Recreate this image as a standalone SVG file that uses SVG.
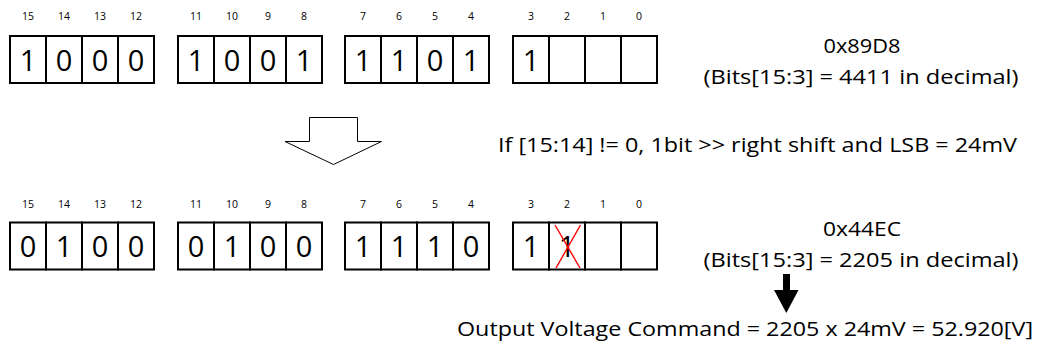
<svg xmlns="http://www.w3.org/2000/svg" width="1039" height="347" viewBox="0 0 1039 347">
  <style>
    .cell { fill: #ffffff; stroke: #000000; stroke-width: 2; }
    .bitno { font-family: "Open Sans", "Liberation Sans", sans-serif; font-size: 10.5px; fill: #000000; text-anchor: middle; }
    .val { font-family: "Open Sans", "Liberation Sans", sans-serif; font-size: 29px; fill: #000000; text-anchor: middle; }
    .note { font-family: "Open Sans", "Liberation Sans", sans-serif; font-size: 20px; fill: #000000; }
    .mid { text-anchor: middle; }
    .cross { stroke: #ff0000; stroke-width: 1.4; }
  </style>
  <rect x="0" y="0" width="1039" height="347" fill="#ffffff"/>

  <!-- Original register value: bits 15..0 -->
  <g id="reg-before">
    <g id="reg-before-15-12">
      <rect class="cell" x="10" y="36" width="36" height="47"/>
      <rect class="cell" x="46" y="36" width="36" height="47"/>
      <rect class="cell" x="82" y="36" width="36" height="47"/>
      <rect class="cell" x="118" y="36" width="36" height="47"/>
      <text class="bitno" x="28" y="20">15</text>
      <text class="bitno" x="64" y="20">14</text>
      <text class="bitno" x="100" y="20">13</text>
      <text class="bitno" x="136" y="20">12</text>
      <text class="val" x="28" y="70.5">1</text>
      <text class="val" x="64" y="70.5">0</text>
      <text class="val" x="100" y="70.5">0</text>
      <text class="val" x="136" y="70.5">0</text>
    </g>
    <g id="reg-before-11-8">
      <rect class="cell" x="178" y="36" width="36" height="47"/>
      <rect class="cell" x="214" y="36" width="36" height="47"/>
      <rect class="cell" x="250" y="36" width="36" height="47"/>
      <rect class="cell" x="286" y="36" width="36" height="47"/>
      <text class="bitno" x="196" y="20">11</text>
      <text class="bitno" x="232" y="20">10</text>
      <text class="bitno" x="268" y="20">9</text>
      <text class="bitno" x="304" y="20">8</text>
      <text class="val" x="196" y="70.5">1</text>
      <text class="val" x="232" y="70.5">0</text>
      <text class="val" x="268" y="70.5">0</text>
      <text class="val" x="304" y="70.5">1</text>
    </g>
    <g id="reg-before-7-4">
      <rect class="cell" x="345" y="36" width="36" height="47"/>
      <rect class="cell" x="381" y="36" width="36" height="47"/>
      <rect class="cell" x="417" y="36" width="36" height="47"/>
      <rect class="cell" x="453" y="36" width="36" height="47"/>
      <text class="bitno" x="363" y="20">7</text>
      <text class="bitno" x="399" y="20">6</text>
      <text class="bitno" x="435" y="20">5</text>
      <text class="bitno" x="471" y="20">4</text>
      <text class="val" x="363" y="70.5">1</text>
      <text class="val" x="399" y="70.5">1</text>
      <text class="val" x="435" y="70.5">0</text>
      <text class="val" x="471" y="70.5">1</text>
    </g>
    <g id="reg-before-3-0">
      <rect class="cell" x="513" y="36" width="36" height="47"/>
      <rect class="cell" x="549" y="36" width="36" height="47"/>
      <rect class="cell" x="585" y="36" width="36" height="47"/>
      <rect class="cell" x="621" y="36" width="36" height="47"/>
      <text class="bitno" x="531" y="20">3</text>
      <text class="bitno" x="567" y="20">2</text>
      <text class="bitno" x="603" y="20">1</text>
      <text class="bitno" x="639" y="20">0</text>
      <text class="val" x="531" y="70.5">1</text>
    </g>
  </g>

  <g id="label-before">
    <text class="note mid" x="862" y="53" textLength="77" lengthAdjust="spacingAndGlyphs">0x89D8</text>
    <text class="note mid" x="861" y="84" textLength="315" lengthAdjust="spacingAndGlyphs">(Bits[15:3] = 4411 in decimal)</text>
  </g>

  <g id="label-shift">
    <text class="note" x="498" y="152" textLength="519" lengthAdjust="spacingAndGlyphs">If [15:14] != 0, 1bit &gt;&gt; right shift and LSB = 24mV</text>
  </g>

  <!-- Shifted register value -->
  <g id="reg-after">
    <g id="reg-after-15-12">
      <rect class="cell" x="10" y="222.5" width="36" height="47"/>
      <rect class="cell" x="46" y="222.5" width="36" height="47"/>
      <rect class="cell" x="82" y="222.5" width="36" height="47"/>
      <rect class="cell" x="118" y="222.5" width="36" height="47"/>
      <text class="bitno" x="28" y="207.5">15</text>
      <text class="bitno" x="64" y="207.5">14</text>
      <text class="bitno" x="100" y="207.5">13</text>
      <text class="bitno" x="136" y="207.5">12</text>
      <text class="val" x="28" y="257">0</text>
      <text class="val" x="64" y="257">1</text>
      <text class="val" x="100" y="257">0</text>
      <text class="val" x="136" y="257">0</text>
    </g>
    <g id="reg-after-11-8">
      <rect class="cell" x="178" y="222.5" width="36" height="47"/>
      <rect class="cell" x="214" y="222.5" width="36" height="47"/>
      <rect class="cell" x="250" y="222.5" width="36" height="47"/>
      <rect class="cell" x="286" y="222.5" width="36" height="47"/>
      <text class="bitno" x="196" y="207.5">11</text>
      <text class="bitno" x="232" y="207.5">10</text>
      <text class="bitno" x="268" y="207.5">9</text>
      <text class="bitno" x="304" y="207.5">8</text>
      <text class="val" x="196" y="257">0</text>
      <text class="val" x="232" y="257">1</text>
      <text class="val" x="268" y="257">0</text>
      <text class="val" x="304" y="257">0</text>
    </g>
    <g id="reg-after-7-4">
      <rect class="cell" x="345" y="222.5" width="36" height="47"/>
      <rect class="cell" x="381" y="222.5" width="36" height="47"/>
      <rect class="cell" x="417" y="222.5" width="36" height="47"/>
      <rect class="cell" x="453" y="222.5" width="36" height="47"/>
      <text class="bitno" x="363" y="207.5">7</text>
      <text class="bitno" x="399" y="207.5">6</text>
      <text class="bitno" x="435" y="207.5">5</text>
      <text class="bitno" x="471" y="207.5">4</text>
      <text class="val" x="363" y="257">1</text>
      <text class="val" x="399" y="257">1</text>
      <text class="val" x="435" y="257">1</text>
      <text class="val" x="471" y="257">0</text>
    </g>
    <g id="reg-after-3-0">
      <rect class="cell" x="513" y="222.5" width="36" height="47"/>
      <rect class="cell" x="549" y="222.5" width="36" height="47"/>
      <rect class="cell" x="585" y="222.5" width="36" height="47"/>
      <rect class="cell" x="621" y="222.5" width="36" height="47"/>
      <text class="bitno" x="531" y="207.5">3</text>
      <text class="bitno" x="567" y="207.5">2</text>
      <text class="bitno" x="603" y="207.5">1</text>
      <text class="bitno" x="639" y="207.5">0</text>
      <text class="val" x="531" y="257">1</text>
      <text class="val" x="567" y="257">1</text>
      <!-- bit 2 is discarded -->
      <line class="cross" x1="555" y1="225" x2="580" y2="268"/>
      <line class="cross" x1="580.5" y1="225" x2="556" y2="268"/>
    </g>
  </g>

  <g id="label-after">
    <text class="note mid" x="862" y="236" textLength="78" lengthAdjust="spacingAndGlyphs">0x44EC</text>
    <text class="note mid" x="861" y="267" textLength="315" lengthAdjust="spacingAndGlyphs">(Bits[15:3] = 2205 in decimal)</text>
  </g>

  <g id="label-result">
    <text class="note" x="457" y="336" textLength="576" lengthAdjust="spacingAndGlyphs">Output Voltage Command = 2205 x 24mV = 52.920[V]</text>
  </g>

  <g id="connectors">
    <!-- block arrow between the two register rows -->
    <polygon points="309.5,117.5 357.5,117.5 357.5,141.5 381.5,141.5 333.5,164.5 285,141.5 309.5,141.5" fill="#ffffff" stroke="#000000" stroke-width="1"/>
    <!-- arrow down to the result -->
    <rect x="783" y="274" width="7" height="17" fill="#000000"/>
    <polygon points="774,290 798.5,290 786.3,313" fill="#000000"/>
  </g>
</svg>
